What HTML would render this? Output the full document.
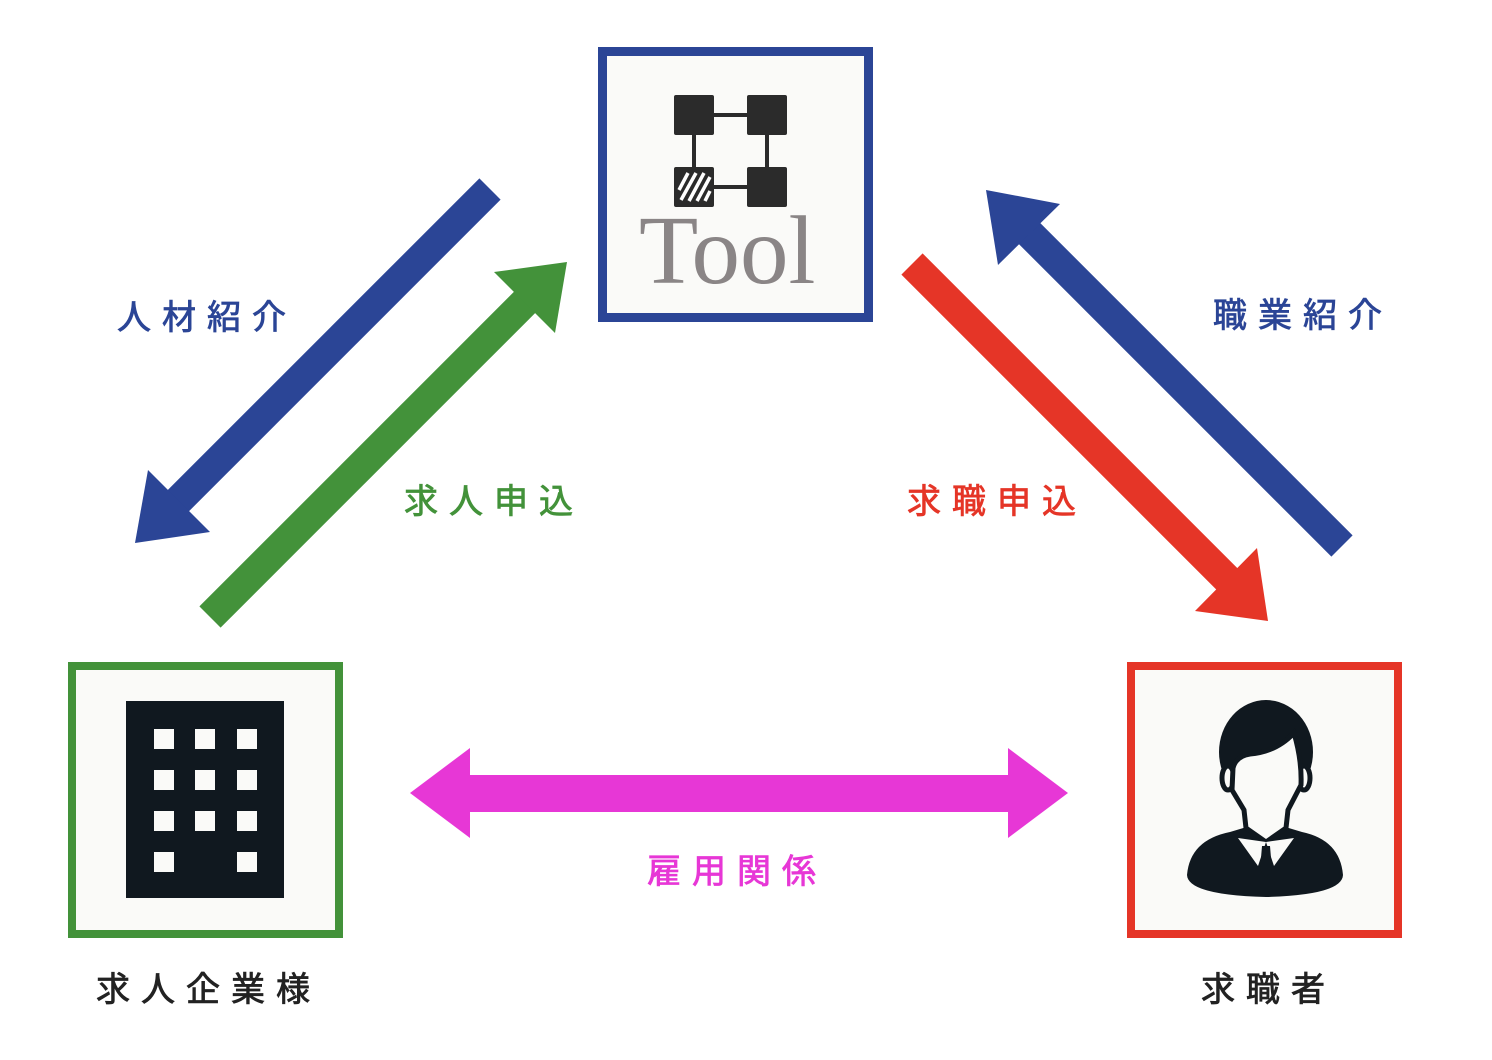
<!DOCTYPE html>
<html><head><meta charset="utf-8"><style>
html,body{margin:0;padding:0;background:#fff;}
svg{display:block}
text{font-family:"Liberation Sans","Noto Sans CJK JP",sans-serif;font-size:34px;letter-spacing:11px;font-weight:normal;stroke-width:0.8px;}
</style></head><body>
<svg width="1492" height="1060" viewBox="0 0 1492 1060" xmlns="http://www.w3.org/2000/svg">
<!-- boxes -->
<rect x="602.5" y="51.5" width="266" height="266" fill="#fafaf8" stroke="#2b4596" stroke-width="9"/>
<rect x="72" y="666" width="267" height="268" fill="#fafaf8" stroke="#43923a" stroke-width="8"/>
<rect x="1131" y="666" width="267" height="268" fill="#fafaf8" stroke="#e53527" stroke-width="8"/>

<!-- tool icon -->
<g fill="#2b2b2b">
<line x1="694" y1="115" x2="767" y2="115" stroke="#2b2b2b" stroke-width="4"/>
<line x1="694" y1="187" x2="767" y2="187" stroke="#2b2b2b" stroke-width="4"/>
<line x1="694" y1="115" x2="694" y2="187" stroke="#2b2b2b" stroke-width="4"/>
<line x1="767" y1="115" x2="767" y2="187" stroke="#2b2b2b" stroke-width="4"/>
<rect x="674" y="95" width="40" height="40" rx="2"/>
<rect x="747" y="95" width="40" height="40" rx="2"/>
<rect x="747" y="167" width="40" height="40" rx="2"/>
<rect x="674" y="167" width="40" height="40" rx="2"/>
</g>
<g stroke="#fff" stroke-width="3.5">
<line x1="679" y1="190" x2="688" y2="173"/><line x1="681" y1="200" x2="696" y2="173"/><line x1="689" y1="201" x2="704" y2="173"/><line x1="697" y1="201" x2="710" y2="177"/><line x1="705" y1="201" x2="710" y2="191"/>
</g>
<text x="639" y="283" style="font-family:'Liberation Serif',serif;font-size:97px;letter-spacing:0;stroke-width:0" fill="#8a8586">Tool</text>

<!-- building -->
<rect x="126" y="701" width="158" height="197" fill="#10181f"/>
<g fill="#fafaf8">
<rect x="154" y="729" width="20" height="20"/><rect x="195" y="729" width="20" height="20"/><rect x="237" y="729" width="20" height="20"/>
<rect x="154" y="770" width="20" height="20"/><rect x="195" y="770" width="20" height="20"/><rect x="237" y="770" width="20" height="20"/>
<rect x="154" y="811" width="20" height="20"/><rect x="195" y="811" width="20" height="20"/><rect x="237" y="811" width="20" height="20"/>
<rect x="154" y="852" width="20" height="20"/><rect x="237" y="852" width="20" height="20"/>
</g>

<!-- person -->
<g fill="#10181f">
<path d="M1187 875 Q1190 840 1230 832 L1250 826 L1266 840 L1282 826 L1302 832 Q1340 840 1343 875 Q1342 895 1266 897 Q1188 895 1187 875Z"/>
<ellipse cx="1266" cy="752" rx="47" ry="52"/>
</g>
<ellipse cx="1228" cy="778" rx="6" ry="12" fill="#fafaf8" stroke="#10181f" stroke-width="5"/>
<ellipse cx="1304" cy="778" rx="6" ry="12" fill="#fafaf8" stroke="#10181f" stroke-width="5"/>
<path d="M1233 768 Q1236 756 1250 754 Q1276 752 1294 733 Q1302 760 1301 785 L1288 810 L1286 828 L1266 842 L1246 828 L1244 810 L1232 790Z" fill="#fafaf8" stroke="#10181f" stroke-width="5"/>
<path d="M1238 838 L1266 842 L1258 866Z M1294 838 L1266 842 L1274 866Z" fill="#fafaf8"/>
<path d="M1262 846 L1270 846 L1272 870 L1266 878 L1260 870Z" fill="#10181f"/>

<!-- arrows -->
<line x1="490" y1="189" x2="178" y2="501" stroke="#2b4596" stroke-width="30"/>
<polygon points="135,543 148,470 210,532" fill="#2b4596"/>
<line x1="210" y1="617" x2="525" y2="302" stroke="#43923a" stroke-width="30"/>
<polygon points="567,262 494,272 555,333" fill="#43923a"/>
<line x1="912" y1="264" x2="1228" y2="580" stroke="#e53527" stroke-width="30"/>
<polygon points="1268,621 1195,611 1257,548" fill="#e53527"/>
<line x1="1342" y1="546" x2="1027" y2="231" stroke="#2b4596" stroke-width="30"/>
<polygon points="986,190 1060,204 998,265" fill="#2b4596"/>
<rect x="468" y="775" width="542" height="37" fill="#e737d6"/>
<polygon points="410,793 470,748 470,838" fill="#e737d6"/>
<polygon points="1068,793 1008,748 1008,838" fill="#e737d6"/>

<!-- labels -->
<text x="117" y="329" fill="#2b4596" stroke="#2b4596">人材紹介</text>
<text x="404" y="513" fill="#43923a" stroke="#43923a">求人申込</text>
<text x="907" y="513" fill="#e53527" stroke="#e53527">求職申込</text>
<text x="1213" y="327" fill="#2b4596" stroke="#2b4596">職業紹介</text>
<text x="647" y="883" fill="#e737d6" stroke="#e737d6">雇用関係</text>
<text x="96" y="1001" fill="#222" stroke="#222">求人企業様</text>
<text x="1201" y="1001" fill="#222" stroke="#222">求職者</text>
</svg>
</body></html>
